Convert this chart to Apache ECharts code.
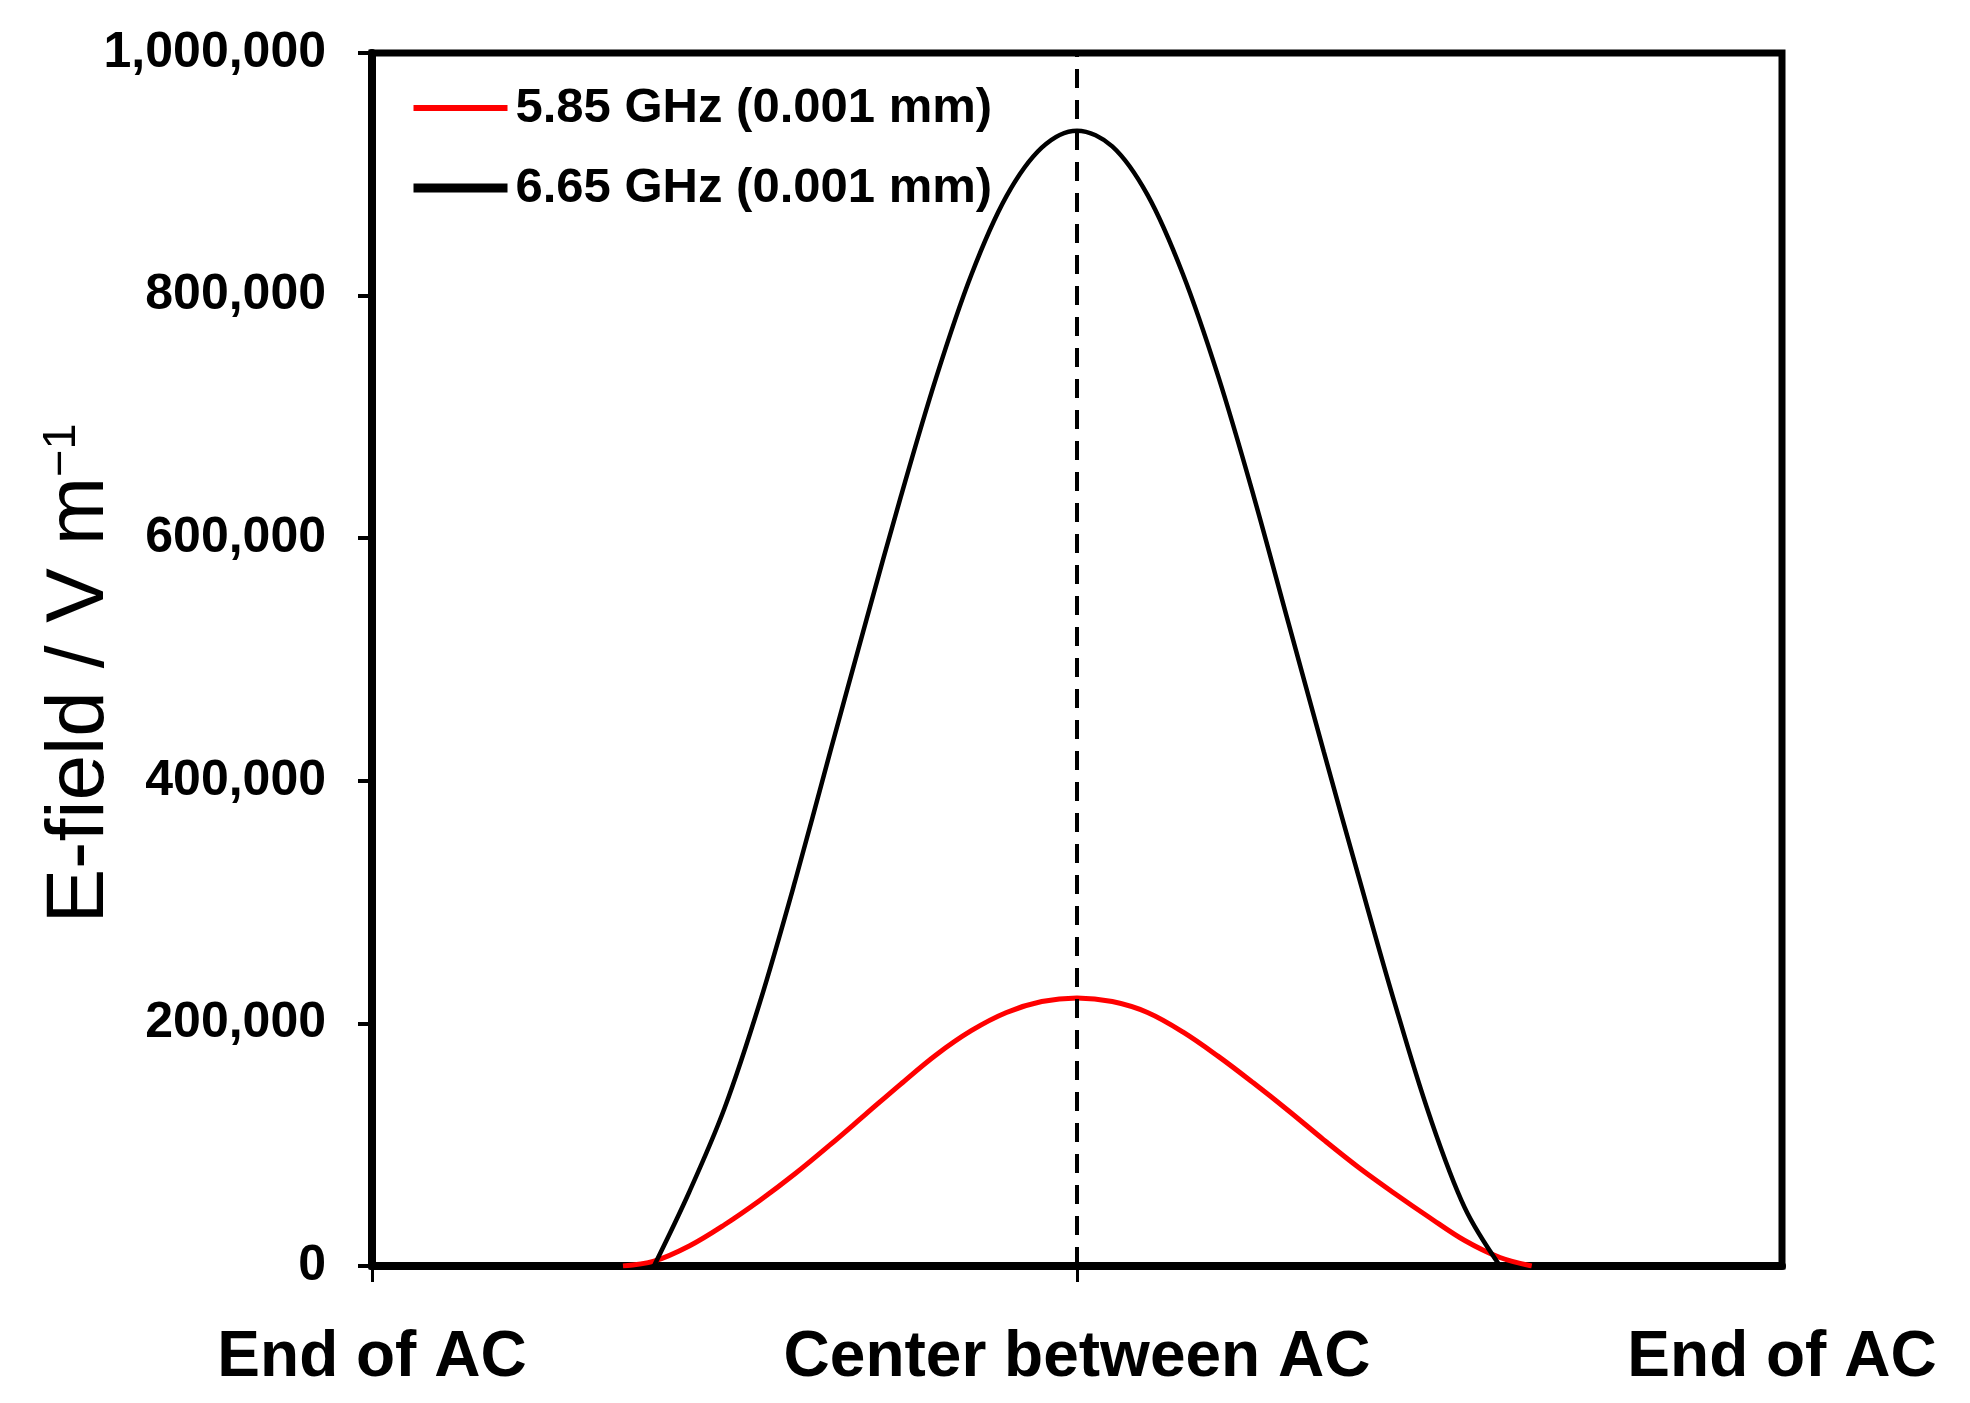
<!DOCTYPE html>
<html>
<head>
<meta charset="utf-8">
<script src="https://cdn.jsdelivr.net/npm/echarts@6/dist/echarts.min.js"></script>
<style>
html,body{margin:0;padding:0;background:#fff;}
#chart{width:1970px;height:1403px;}
</style>
</head>
<body>
<div id="chart"></div>
<script>
// ---- data ----
const xTickLabels = ['End of AC', 'Center between AC', 'End of AC'];
const yTicks = [0, 200000, 400000, 600000, 800000, 1000000];

const redName = '5.85 GHz (0.001 mm)';
const redX = [0.356, 0.40, 0.45, 0.50, 0.55, 0.60, 0.65, 0.70, 0.75, 0.80, 0.85, 0.90, 0.95, 1.00, 1.05, 1.10, 1.15, 1.20, 1.25, 1.30, 1.35, 1.40, 1.45, 1.50, 1.55, 1.60, 1.645];
const redY = [0, 4000, 16500, 34000, 54000, 76000, 100000, 125000, 150000, 174000, 194000, 209000, 218000, 221000, 218000, 209000, 193000, 173000, 151000, 128000, 104000, 81000, 60000, 40000, 21000, 7000, 0];

const blackName = '6.65 GHz (0.001 mm)';
const blackX = [0.40, 0.45, 0.50, 0.55, 0.60, 0.65, 0.70, 0.75, 0.80, 0.85, 0.90, 0.95, 1.00, 1.05, 1.10, 1.15, 1.20, 1.25, 1.30, 1.35, 1.40, 1.45, 1.50, 1.55, 1.60];
const blackY = [0, 61000, 130000, 217000, 317000, 424000, 530000, 634000, 732000, 817000, 882000, 922000, 936000, 923000, 883000, 818000, 734000, 636000, 530000, 424000, 320000, 218000, 124000, 48000, 0];

const centerX = 1;

// ---- chart ----
const FONT = '"Liberation Sans", Arial, Helvetica, sans-serif';
const zip = (xs, ys) => xs.map((x, i) => [x, ys[i]]);

const chart = echarts.init(document.getElementById('chart'), null, {renderer: 'canvas'});
chart.setOption({
  animation: false,
  backgroundColor: '#fff',
  grid: {
    left: 372, right: 188, top: 53, bottom: 137,
    show: true, borderColor: '#000', borderWidth: 7, backgroundColor: 'transparent'
  },
  legend: {
    orient: 'vertical',
    left: 409, top: 80,
    padding: 0,
    itemWidth: 94, itemHeight: 20, itemGap: 24,
    textStyle: {fontFamily: FONT, fontSize: 49, fontWeight: 'bold', color: '#000', lineHeight: 56, padding: [0, 0, 0, 3]},
    data: [
      {name: redName, lineStyle: {width: 6}, itemStyle: {opacity: 0}},
      {name: blackName, lineStyle: {width: 9}, itemStyle: {opacity: 0}}
    ]
  },
  xAxis: {
    type: 'value',
    min: 0, max: 2, interval: 1,
    splitLine: {show: false},
    axisLine: {show: true, onZero: false, lineStyle: {color: '#000', width: 8}},
    axisTick: {show: true, length: 16, inside: false, customValues: [0, 1], lineStyle: {color: '#000', width: 3}},
    axisLabel: {
      customValues: [0, 1, 2],
      margin: 60,
      fontFamily: FONT, fontSize: 64, fontWeight: 'bold', color: '#000',
      formatter: v => xTickLabels[Math.round(v)]
    }
  },
  yAxis: {
    type: 'value',
    min: 0, max: 1000000, interval: 200000,
    splitLine: {show: false},
    axisLine: {show: true, lineStyle: {color: '#000', width: 8}},
    axisTick: {show: true, length: 14, lineStyle: {color: '#000', width: 4}},
    axisLabel: {
      margin: 46,
      fontFamily: FONT, fontSize: 50, fontWeight: 'bold', color: '#000',
      formatter: v => Number(v).toLocaleString('en-US')
    },
    name: 'E-field / V m{sup|−1}',
    nameLocation: 'middle',
    nameGap: 251,
    nameMoveOverlap: false,
    nameTextStyle: {
      fontFamily: FONT, fontSize: 82, color: '#000', fontWeight: 'normal',
      padding: [0, 28, 0, 0],
      rich: {sup: {fontFamily: FONT, fontSize: 47, color: '#000', verticalAlign: 'top'}}
    }
  },
  series: [
    {
      name: redName,
      type: 'line',
      data: zip(redX, redY),
      smooth: 0.35,
      symbol: 'none',
      lineStyle: {color: '#ff0000', width: 5},
      itemStyle: {color: '#ff0000'},
      z: 3
    },
    {
      name: blackName,
      type: 'line',
      data: zip(blackX, blackY),
      smooth: 0.35,
      symbol: 'none',
      lineStyle: {color: '#000', width: 4.5},
      itemStyle: {color: '#000'},
      z: 4,
      markLine: {
        silent: true,
        symbol: ['none', 'none'],
        label: {show: false},
        lineStyle: {color: '#000', width: 4, type: [19, 12]},
        data: [{xAxis: centerX}]
      }
    }
  ]
});
</script>
</body>
</html>
